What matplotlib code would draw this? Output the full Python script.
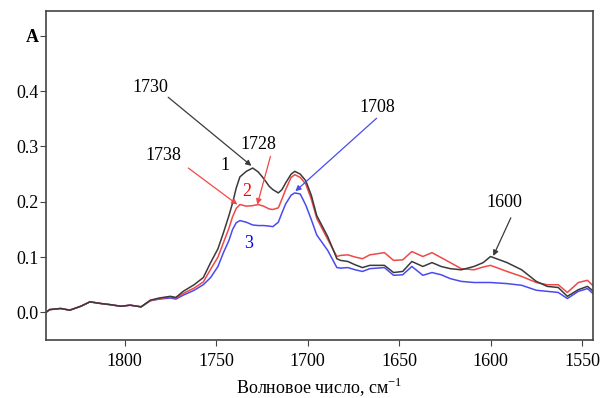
import matplotlib.pyplot as plt
import numpy as np

plt.rcParams['font.family'] = ['Liberation Serif', 'DejaVu Serif']
plt.rcParams['mathtext.fontset'] = 'custom'
plt.rcParams['mathtext.rm'] = 'Liberation Serif'

wavenumber = [1843, 1841, 1835, 1830, 1824, 1819, 1813, 1808, 1802, 1797, 1791,
              1786, 1781, 1775, 1772, 1768, 1762, 1757, 1753, 1749, 1746, 1743,
              1741, 1739, 1737, 1733.5, 1730, 1727, 1724, 1721, 1719, 1716, 1714,
              1712, 1709, 1707, 1704, 1701, 1698, 1695, 1689, 1684, 1682, 1678,
              1674, 1670, 1666, 1658, 1653, 1648, 1643, 1637, 1632, 1627, 1622,
              1616, 1609, 1604, 1600, 1591, 1583, 1575, 1569, 1563, 1558, 1552,
              1547, 1543]

abs_1 = [0.000, 0.005, 0.007, 0.004, 0.011, 0.019, 0.016, 0.014, 0.011, 0.013, 0.010,
         0.022, 0.026, 0.029, 0.027, 0.038, 0.050, 0.063, 0.090, 0.115, 0.144, 0.175,
         0.198, 0.225, 0.245, 0.255, 0.261, 0.254, 0.242, 0.228, 0.222, 0.216, 0.222,
         0.234, 0.250, 0.255, 0.250, 0.238, 0.212, 0.175, 0.137, 0.097, 0.094, 0.092,
         0.086, 0.081, 0.085, 0.085, 0.072, 0.074, 0.092, 0.083, 0.090, 0.083, 0.079,
         0.077, 0.083, 0.090, 0.101, 0.090, 0.077, 0.056, 0.047, 0.045, 0.029, 0.041,
         0.047, 0.036]

abs_2 = [0.000, 0.005, 0.007, 0.004, 0.011, 0.019, 0.016, 0.014, 0.011, 0.013, 0.010,
         0.021, 0.025, 0.028, 0.026, 0.034, 0.044, 0.055, 0.078, 0.100, 0.126, 0.152,
         0.173, 0.188, 0.195, 0.192, 0.193, 0.195, 0.192, 0.187, 0.186, 0.189, 0.205,
         0.222, 0.244, 0.249, 0.244, 0.232, 0.205, 0.170, 0.132, 0.101, 0.103, 0.104,
         0.100, 0.097, 0.104, 0.108, 0.094, 0.095, 0.110, 0.101, 0.108, 0.099, 0.090,
         0.079, 0.077, 0.082, 0.085, 0.074, 0.065, 0.054, 0.050, 0.050, 0.036, 0.054,
         0.058, 0.045]

abs_3 = [0.000, 0.005, 0.007, 0.004, 0.011, 0.019, 0.016, 0.014, 0.011, 0.013, 0.010,
         0.021, 0.024, 0.026, 0.024, 0.031, 0.040, 0.050, 0.063, 0.083, 0.108, 0.130,
         0.150, 0.162, 0.166, 0.163, 0.158, 0.157, 0.157, 0.156, 0.155, 0.163, 0.180,
         0.196, 0.212, 0.216, 0.214, 0.194, 0.168, 0.140, 0.112, 0.081, 0.080, 0.081,
         0.077, 0.074, 0.079, 0.081, 0.067, 0.068, 0.083, 0.067, 0.072, 0.068, 0.061,
         0.056, 0.054, 0.054, 0.054, 0.052, 0.049, 0.040, 0.038, 0.036, 0.025, 0.038,
         0.043, 0.031]

c_black = '#3a3a3a'
c_red = '#f04848'
c_blue = '#4a4af0'

fig = plt.figure(figsize=(6.02, 3.98), dpi=100)
ax = fig.add_axes([0.0764, 0.1457, 0.9086, 0.8267])

ax.plot(wavenumber, abs_3, color=c_blue, lw=1.1)
ax.plot(wavenumber, abs_2, color=c_red, lw=1.1)
ax.plot(wavenumber, abs_1, color=c_black, lw=1.1)

ax.set_xlim(1843, 1544)
ax.set_ylim(-0.05, 0.545)
ax.set_xticks([1800, 1750, 1700, 1650, 1600, 1550])
ax.set_yticks([0.0, 0.1, 0.2, 0.3, 0.4, 0.5])
ax.set_yticklabels(['0.0', '0.1', '0.2', '0.3', '0.4', 'A'])
ax.get_yticklabels()[-1].set_fontweight('bold')
ax.tick_params(labelsize=13, length=4, color='#444444', direction='out')
ax.tick_params(axis='x', pad=5)
ax.tick_params(axis='y', pad=1.5)
for s in ax.spines.values():
    s.set_color('#444444')
    s.set_linewidth(1.2)

ax.set_xlabel('Волновое число, см$^{\\mathregular{-1}}$', fontsize=13, labelpad=4)

arrow_kw = dict(arrowstyle='-|>', mutation_scale=8, lw=0.9, shrinkA=0, shrinkB=0)

ax.annotate('', xy=(1730.7, 0.265), xytext=(1776.2, 0.389),
            arrowprops=dict(color=c_black, **arrow_kw))
ax.text(1786, 0.407, '1730', fontsize=13, ha='center', va='center')

ax.annotate('', xy=(1738.4, 0.195), xytext=(1765.2, 0.261),
            arrowprops=dict(color=c_red, **arrow_kw))
ax.text(1779, 0.284, '1738', fontsize=13, ha='center', va='center')

ax.annotate('', xy=(1727.5, 0.195), xytext=(1720.3, 0.282),
            arrowprops=dict(color=c_red, **arrow_kw))
ax.text(1727, 0.303, '1728', fontsize=13, ha='center', va='center')

ax.annotate('', xy=(1706.7, 0.219), xytext=(1662.3, 0.351),
            arrowprops=dict(color=c_blue, **arrow_kw))
ax.text(1662, 0.371, '1708', fontsize=13, ha='center', va='center')

ax.annotate('', xy=(1598.5, 0.102), xytext=(1588.9, 0.171),
            arrowprops=dict(color=c_black, **arrow_kw))
ax.text(1592.7, 0.199, '1600', fontsize=13, ha='center', va='center')

ax.text(1745, 0.266, '1', fontsize=13, color='black', ha='center', va='center')
ax.text(1733, 0.218, '2', fontsize=13, color='red', ha='center', va='center')
ax.text(1732.4, 0.124, '3', fontsize=13, color='blue', ha='center', va='center')

fig.savefig('out.png', dpi=100)
